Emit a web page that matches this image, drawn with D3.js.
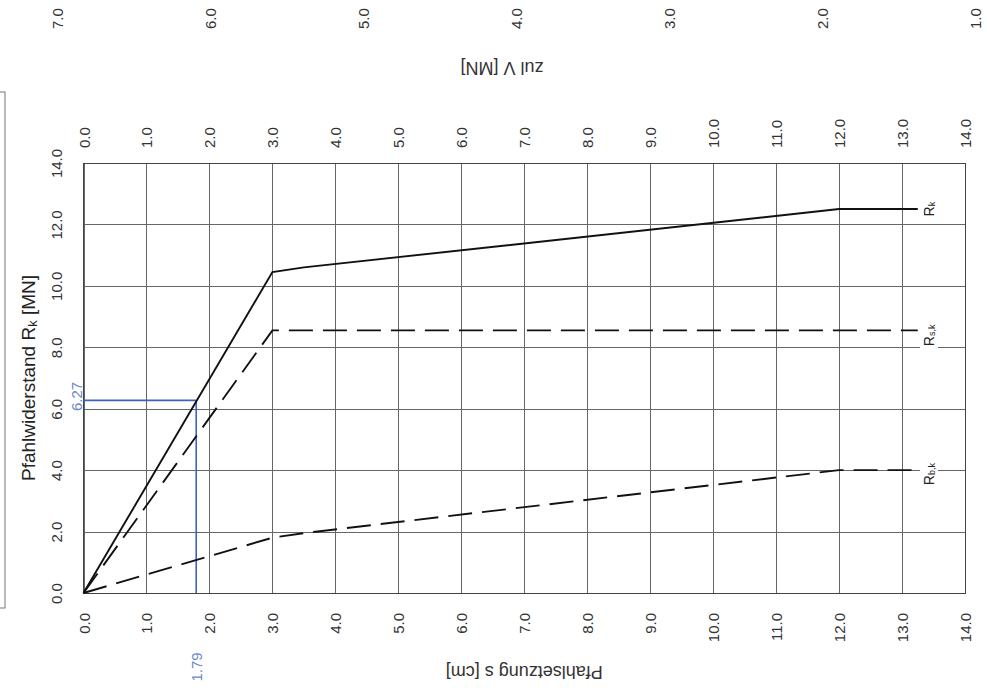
<!DOCTYPE html>
<html>
<head>
<meta charset="utf-8">
<script src="https://cdn.jsdelivr.net/npm/d3@7"></script>
<style>
  body { margin: 0; background: #fff; }
  svg { font-family: "Liberation Sans", Arial, sans-serif; }
</style>
</head>
<body>
<div id="chart"></div>
<script>
// settlement s [cm] and resistance R [MN]
const sTicks = [0, 1, 2, 3, 4, 5, 6, 7, 8, 9, 10, 11, 12, 13, 14];
const rTicks = [0, 2, 4, 6, 8, 10, 12, 14];
const vTicks = [7, 6, 5, 4, 3, 2, 1];   // zul V scale of the neighbouring chart

const rkS = [0, 3.0, 3.5, 12.0, 13.25];
const rkR = [0, 10.45, 10.6, 12.5, 12.5];
const rsS = [0, 3.0, 13.25];
const rsR = [0, 8.55, 8.55];
const rbS = [0, 3.0, 3.5, 12.0, 13.25];
const rbR = [0, 1.8, 1.95, 4.0, 4.0];

const readS = 1.79, readR = 6.27;

const width = 987, height = 692;
const svg = d3.select("#chart").append("svg")
    .attr("width", width)
    .attr("height", height);

const x = d3.scaleLinear().domain([0, 14]).range([83.5, 965]);
const y = d3.scaleLinear().domain([0, 14]).range([593, 163]);
const v = d3.scaleLinear().domain([7, 1]).range([57, 975]);
const fmt = d3.format(".1f");
const gridColor = "#666";

// frame of the neighbouring box on the left
svg.append("rect")
    .attr("x", -10).attr("y", 92)
    .attr("width", 15).attr("height", 516)
    .attr("fill", "none").attr("stroke", "#777").attr("stroke-width", 1);

// bottom axis with vertical grid
const gx = svg.append("g")
    .attr("transform", `translate(0,${y(0)})`)
    .call(d3.axisBottom(x).tickValues(sTicks).tickSize(-(y(0) - y(14))).tickFormat(fmt));
gx.select(".domain").remove();
gx.selectAll("line").attr("stroke", gridColor).attr("shape-rendering", "crispEdges");
gx.selectAll("text")
    .attr("x", 0).attr("y", 0).attr("dy", null)
    .attr("transform", "translate(0,20) rotate(-90)")
    .attr("text-anchor", "end")
    .attr("dominant-baseline", "central")
    .attr("font-size", 15).attr("fill", "#333");

// top axis (labels only)
const gt = svg.append("g")
    .attr("transform", `translate(0,${y(14)})`)
    .call(d3.axisTop(x).tickValues(sTicks).tickSize(0).tickFormat(fmt));
gt.select(".domain").remove();
gt.selectAll("text")
    .attr("x", 0).attr("y", 0).attr("dy", null)
    .attr("transform", "translate(0,-15) rotate(-90)")
    .attr("text-anchor", "start")
    .attr("dominant-baseline", "central")
    .attr("font-size", 15).attr("fill", "#333");

// left axis with horizontal grid
const gy = svg.append("g")
    .attr("transform", `translate(${x(0)},0)`)
    .call(d3.axisLeft(y).tickValues(rTicks).tickSize(-(x(14) - x(0))).tickFormat(fmt));
gy.select(".domain").remove();
gy.selectAll("line").attr("stroke", gridColor).attr("shape-rendering", "crispEdges");
gy.selectAll("text")
    .attr("x", 0).attr("y", 0).attr("dy", null)
    .attr("transform", "translate(-27,0) rotate(-90)")
    .attr("text-anchor", "middle")
    .attr("dominant-baseline", "central")
    .attr("font-size", 15).attr("fill", "#333");

// plot border
svg.append("rect")
    .attr("x", x(0)).attr("y", y(14))
    .attr("width", x(14) - x(0)).attr("height", y(0) - y(14))
    .attr("fill", "none").attr("stroke", "#444").attr("stroke-width", 1)
    .attr("shape-rendering", "crispEdges");

// zul V scale at the very top
const gv = svg.append("g")
    .attr("transform", "translate(0,29)")
    .call(d3.axisTop(v).tickValues(vTicks).tickSize(0).tickFormat(fmt));
gv.select(".domain").remove();
gv.selectAll("text")
    .attr("x", 0).attr("y", 0).attr("dy", null)
    .attr("transform", "rotate(-90)")
    .attr("text-anchor", "start")
    .attr("dominant-baseline", "central")
    .attr("font-size", 15).attr("fill", "#333");

svg.append("text")
    .attr("transform", "translate(502,68) rotate(180)")
    .attr("text-anchor", "middle").attr("dominant-baseline", "central")
    .attr("font-size", 18).attr("fill", "#333")
    .text("zul V [MN]");

// reading lines
const blue = "#3f62c2";
svg.append("line")
    .attr("x1", x(readS)).attr("x2", x(readS))
    .attr("y1", y(0)).attr("y2", y(readR))
    .attr("stroke", blue).attr("stroke-width", 1.6);
svg.append("line")
    .attr("x1", x(0)).attr("x2", x(readS))
    .attr("y1", y(readR)).attr("y2", y(readR))
    .attr("stroke", blue).attr("stroke-width", 1.6);

function fmt2(d) { return d3.format(".2f")(d); }

svg.append("text")
    .attr("transform", `translate(${x(readS)},667) rotate(-90)`)
    .attr("text-anchor", "middle").attr("dominant-baseline", "central")
    .attr("font-size", 15).attr("fill", "#6a88cc")
    .text(fmt2(readS));
svg.append("text")
    .attr("transform", `translate(76,${y(readR) - 4}) rotate(-90)`)
    .attr("text-anchor", "middle").attr("dominant-baseline", "central")
    .attr("font-size", 15).attr("fill", "#6a88cc")
    .text(fmt2(readR));

// curves
const line = d3.line().x(d => x(d[0])).y(d => y(d[1]));
const curves = [
    { s: rkS, r: rkR, dash: null, sub: "k", shift: 0 },
    { s: rsS, r: rsR, dash: "24,10", sub: "s,k", shift: 5 },
    { s: rbS, r: rbR, dash: "24,10", sub: "b,k", shift: 4 }
];

curves.forEach(c => {
    const pts = c.s.map((s, i) => [s, c.r[i]]);
    svg.append("path")
        .attr("d", line(pts))
        .attr("fill", "none")
        .attr("stroke", "#111")
        .attr("stroke-width", 1.9)
        .attr("stroke-dasharray", c.dash);

    // end label with white background
    const last = c.r[c.r.length - 1];
    const lx = 929, ly = y(last) + c.shift;
    const g = svg.append("g").attr("transform", `translate(${lx},${ly}) rotate(-90)`);
    const t = g.append("text")
        .attr("text-anchor", "middle").attr("dominant-baseline", "central")
        .attr("font-size", 14).attr("fill", "#222");
    t.append("tspan").text("R");
    t.append("tspan").attr("font-size", 9).attr("dy", 3).text(c.sub);
    const bb = t.node().getBBox();
    g.insert("rect", "text")
        .attr("x", bb.x - 3).attr("y", bb.y - 1)
        .attr("width", bb.width + 6).attr("height", bb.height + 2)
        .attr("fill", "#fff");
});

// axis titles
const yt = svg.append("text")
    .attr("transform", `translate(28,${(y(0) + y(14)) / 2}) rotate(-90)`)
    .attr("text-anchor", "middle").attr("dominant-baseline", "central")
    .attr("font-size", 19).attr("fill", "#222");
yt.append("tspan").text("Pfahlwiderstand R");
yt.append("tspan").attr("font-size", 13).attr("dy", 4).text("k");
yt.append("tspan").attr("dy", -4).text(" [MN]");

svg.append("text")
    .attr("transform", `translate(${(x(0) + x(14)) / 2},672) rotate(180)`)
    .attr("text-anchor", "middle").attr("dominant-baseline", "central")
    .attr("font-size", 18).attr("fill", "#333")
    .text("Pfahlsetzung s [cm]");
</script>
</body>
</html>
